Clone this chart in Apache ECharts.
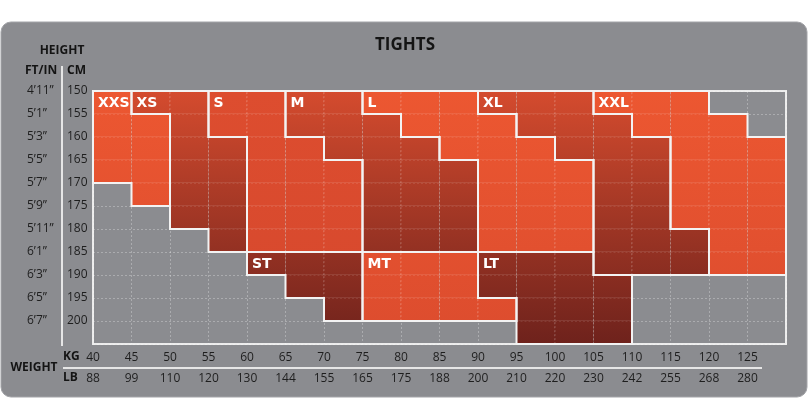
<!DOCTYPE html>
<html><head><meta charset="utf-8">
<script src="https://cdn.jsdelivr.net/npm/echarts@6/dist/echarts.min.js"></script>
<style>html,body{margin:0;padding:0;background:#fff}#c{width:810px;height:400px}</style>
</head><body><div id="c"></div>
<script>
// ---- tick labels ----
const kgTicks = [40,45,50,55,60,65,70,75,80,85,90,95,100,105,110,115,120,125];
const lbTicks = [88,99,110,120,130,144,155,165,175,188,200,210,220,230,242,255,268,280];
const cmTicks = [150,155,160,165,170,175,180,185,190,195,200];
const ftTicks = ['4’11”','5’1”','5’3”','5’5”','5’7”','5’9”','5’11”','6’1”','6’3”','6’5”','6’7”'];

// ---- size regions: [weight column start (kg), height from (cm), height to (cm)] ----
const sizeXXS = [[40,150,170],[45,155,175]];
const sizeXS  = [[45,150,155],[50,150,180],[55,160,185]];
const sizeS   = [[55,150,160],[60,150,185],[65,160,185],[70,165,185]];
const sizeM   = [[65,150,160],[70,150,165],[75,155,185],[80,160,185],[85,165,185]];
const sizeL   = [[75,150,155],[80,150,160],[85,150,165],[90,155,185],[95,160,185],[100,165,185]];
const sizeXL  = [[90,150,155],[95,150,160],[100,150,165],[105,155,190],[110,160,190],[115,180,190]];
const sizeXXL = [[105,150,155],[110,150,160],[115,150,180],[120,155,190],[125,160,190]];
const sizeST  = [[60,185,190],[65,185,195],[70,185,200]];
const sizeMT  = [[75,185,200],[80,185,200],[85,185,200],[90,195,200]];
const sizeLT  = [[90,185,195],[95,185,205],[100,185,205],[105,190,205]];

const sizeNames = ['XXS','XS','S','M','L','XL','XXL','ST','MT','LT'];
const sizeTones = ['bright','red','medium','red','bright','red','bright','red','bright','red'];
const sizeCols  = [sizeXXS,sizeXS,sizeS,sizeM,sizeL,sizeXL,sizeXXL,sizeST,sizeMT,sizeLT];

const STEP = 5; // cell size on both axes

// expand regions into cells [kg, cm, sizeIndex]
const cells = [];
sizeCols.forEach((cols, s) => cols.forEach(c => {
  for (let h = c[1]; h < c[2]; h += STEP) cells.push([c[0], h, s]);
}));
const regions = sizeCols.map((cols, s) => [cols[0][0], cols[0][1], s]);

const toneStops = {
  bright: [{offset:0,color:'#EC5731'},{offset:1,color:'#DC4C2E'}],
  medium: [{offset:0,color:'#DD4D2F'},{offset:1,color:'#D6482D'}],
  red:    [{offset:0,color:'#D44B2E'},{offset:1,color:'#6E221C'}]
};

const FONT = '"Open Sans", sans-serif';
const chart = echarts.init(document.getElementById('c'), null, {renderer:'canvas'});

chart.setOption({
  backgroundColor: '#ffffff',
  animation: false,
  title: {
    text: 'TIGHTS', left: 'center', top: 32,
    textStyle: {fontFamily: FONT, fontSize: 17, fontWeight: 'bold', color: '#141414'}
  },
  grid: {
    left: 93, top: 91, width: 693, height: 253,
    show: true, borderColor: '#ECECEC', borderWidth: 2, backgroundColor: 'transparent'
  },
  xAxis: [{
    type: 'value', min: 40, max: 130, interval: 5, position: 'bottom',
    axisLine: {show: false}, axisTick: {show: false},
    splitLine: {show: true, lineStyle: {color: 'rgba(255,255,255,0.28)', type: [2,2], width: 1}},
    axisLabel: {margin: 8, fontFamily: FONT, fontSize: 12, color: '#1e1e1e',
      formatter: v => kgTicks.indexOf(v) >= 0 ? String(v) : ''}
  }, {
    type: 'value', min: 40, max: 130, interval: 5, position: 'bottom', offset: 21,
    axisLine: {show: false}, axisTick: {show: false}, splitLine: {show: false},
    axisLabel: {margin: 8, fontFamily: FONT, fontSize: 12, color: '#1e1e1e',
      formatter: v => { const i = kgTicks.indexOf(v); return i >= 0 ? String(lbTicks[i]) : ''; }}
  }],
  yAxis: [{
    type: 'value', min: 150, max: 205, interval: 5, inverse: true, position: 'left',
    axisLine: {show: false}, axisTick: {show: false},
    splitLine: {show: true, lineStyle: {color: 'rgba(255,255,255,0.28)', type: [2,2], width: 1}},
    axisLabel: {margin: 26, align: 'left', fontFamily: FONT, fontSize: 12, color: '#1e1e1e',
      formatter: v => cmTicks.indexOf(v) >= 0 ? String(v) : ''}
  }, {
    type: 'value', min: 150, max: 205, interval: 5, inverse: true, position: 'left',
    axisLine: {show: false}, axisTick: {show: false}, splitLine: {show: false},
    axisLabel: {margin: 66, align: 'left', fontFamily: FONT, fontSize: 12, color: '#1e1e1e',
      formatter: v => { const i = cmTicks.indexOf(v); return i >= 0 ? ftTicks[i] : ''; }}
  }],
  graphic: [
    {type: 'rect', z: -100, silent: true, shape: {x: 1, y: 22, width: 806, height: 375, r: 10},
     style: {fill: '#8B8C90', stroke: '#A3A4A8', lineWidth: 1}},
    {type: 'line', z: 10, silent: true, shape: {x1: 62, y1: 66, x2: 62, y2: 346},
     style: {stroke: '#E6E6E6', lineWidth: 2}},
    {type: 'line', z: 10, silent: true, shape: {x1: 63, y1: 368, x2: 762, y2: 368},
     style: {stroke: '#E6E6E6', lineWidth: 2}},
    {type: 'text', z: 10, x: 62, y: 51, style: {text: 'HEIGHT', fill: '#141414', font: 'bold 12px ' + FONT, align: 'center', verticalAlign: 'middle'}},
    {type: 'text', z: 10, x: 25, y: 71, style: {text: 'FT/IN', fill: '#141414', font: 'bold 12px ' + FONT, align: 'left', verticalAlign: 'middle'}},
    {type: 'text', z: 10, x: 67, y: 71, style: {text: 'CM', fill: '#141414', font: 'bold 12px ' + FONT, align: 'left', verticalAlign: 'middle'}},
    {type: 'text', z: 10, x: 34, y: 368, style: {text: 'WEIGHT', fill: '#141414', font: 'bold 12px ' + FONT, align: 'center', verticalAlign: 'middle'}},
    {type: 'text', z: 10, x: 63, y: 357, style: {text: 'KG', fill: '#141414', font: 'bold 12px ' + FONT, align: 'left', verticalAlign: 'middle'}},
    {type: 'text', z: 10, x: 63, y: 378, style: {text: 'LB', fill: '#141414', font: 'bold 12px ' + FONT, align: 'left', verticalAlign: 'middle'}}
  ],
  series: [{
    type: 'custom', name: 'cells', silent: true, z: 2,
    xAxisIndex: 0, yAxisIndex: 0,
    encode: {x: 0, y: 1},
    data: cells,
    renderItem: (params, api) => {
      const kg = api.value(0), h = api.value(1), s = api.value(2);
      const p0 = api.coord([kg, h]);
      const p1 = api.coord([kg + STEP, h + STEP]);
      const gy0 = api.coord([40, 150])[1];
      const gy1 = api.coord([40, 205])[1];
      const fill = new echarts.graphic.LinearGradient(0, gy0, 0, gy1, toneStops[sizeTones[s]], true);
      return {
        type: 'rect',
        shape: {x: p0[0], y: p0[1], width: p1[0] - p0[0], height: p1[1] - p0[1]},
        style: {fill: fill, stroke: 'rgba(255,255,255,0.2)', lineWidth: 1, lineDash: [2,2]}
      };
    }
  }, {
    type: 'custom', name: 'outlines', silent: true, z: 3,
    xAxisIndex: 0, yAxisIndex: 0,
    encode: {x: 0, y: 1},
    data: regions,
    renderItem: (params, api) => {
      const s = api.value(2);
      const cols = sizeCols[s];
      const pts = [];
      cols.forEach(c => { pts.push(api.coord([c[0], c[1]])); pts.push(api.coord([c[0] + STEP, c[1]])); });
      for (let i = cols.length - 1; i >= 0; i--) {
        const c = cols[i];
        pts.push(api.coord([c[0] + STEP, c[2]]));
        pts.push(api.coord([c[0], c[2]]));
      }
      const a = api.coord([cols[0][0], cols[0][1]]);
      const b = api.coord([cols[0][0] + STEP, cols[0][1] + STEP]);
      return {
        type: 'group',
        children: [{
          type: 'polygon', shape: {points: pts},
          style: {fill: 'none', stroke: '#F3F3F3', lineWidth: 2}
        }, {
          type: 'text', x: a[0] + 5, y: (a[1] + b[1]) / 2 + 1,
          style: {text: sizeNames[s], fill: '#ffffff', font: 'bold 14px "DejaVu Sans", sans-serif',
                  align: 'left', verticalAlign: 'middle'}
        }]
      };
    }
  }]
});
</script>
</body></html>
